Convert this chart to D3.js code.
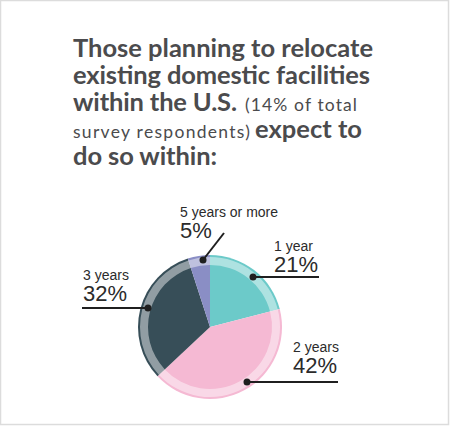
<!DOCTYPE html>
<html>
<head>
<meta charset="utf-8">
<script src="https://cdn.jsdelivr.net/npm/d3@7"></script>
<style>
  body { margin: 0; background: #fff; }
  svg { display: block; }
</style>
</head>
<body>
<svg id="chart" width="450" height="426"></svg>
<script>
// chart data
const categories = ["1 year", "2 years", "3 years", "5 years or more"];
const shares = [21, 42, 32, 5];
const colors = ["#6ccac9", "#f5b9d3", "#374e58", "#8a8ec5"];

// title text, segment by segment (big = bold headline, else small note)
const titleLines = [
  [{ t: "Those planning to relocate", big: true }],
  [{ t: "existing domestic facilities", big: true }],
  [{ t: "within the U.S.", big: true }, { t: "(14% of total", big: false }],
  [{ t: "survey respondents)", big: false }, { t: "expect to", big: true }],
  [{ t: "do so within:", big: true }],
];
// measured span [start, end] of each segment in the reference
const titleSpans = [
  [[73, 373]],
  [[73, 370]],
  [[73, 237], [245, 357]],
  [[73, 250], [255, 362]],
  [[73, 217]],
];

// label placement per slice: text anchor point + leader line (dot, line end)
const labelPos = [
  { x: 274, y: 251, line: [[253, 277], [319, 277]] },
  { x: 293, y: 352, line: [[247, 382], [338, 382]] },
  { x: 83, y: 280, line: [[148, 308], [82, 308]] },
  { x: 180, y: 217, line: [[203, 260], [224, 233]] },
];

const width = 450, height = 426;
const svg = d3.select("#chart");

// frame
svg.append("rect")
  .attr("x", 0.5).attr("y", 0.5)
  .attr("width", width - 2).attr("height", height - 2)
  .attr("fill", "#fff")
  .attr("stroke", "#dcdcdc")
  .attr("stroke-width", 1.5);

// title
const title = svg.append("g")
  .attr("font-family", "Lato, sans-serif")
  .attr("fill", "#4b4b4d");
titleLines.forEach((line, i) => {
  line.forEach((seg, j) => {
    const [x0, x1] = titleSpans[i][j];
    title.append("text")
      .attr("x", x0)
      .attr("y", 57 + i * 27)
      .attr("font-size", seg.big ? 25.5 : 17.5)
      .attr("font-weight", seg.big ? 700 : 400)
      .attr("textLength", x1 - x0)
      .attr("lengthAdjust", "spacing")
      .text(seg.t);
  });
});

// pie
const cx = 210, cy = 327, rOuter = 72, rInner = 62;
const pie = d3.pie().sort(null).value(d => d.v);
const arcs = pie(categories.map((c, i) => ({ c, v: shares[i], color: colors[i] })));

const g = svg.append("g").attr("transform", `translate(${cx},${cy})`);
const fullArc = d3.arc().innerRadius(0).outerRadius(rOuter);
const bandArc = d3.arc().innerRadius(rInner).outerRadius(rOuter - 2);

g.selectAll("path.slice")
  .data(arcs)
  .join("path")
  .attr("class", "slice")
  .attr("d", fullArc)
  .attr("fill", d => d.data.color);

g.selectAll("path.band")
  .data(arcs)
  .join("path")
  .attr("class", "band")
  .attr("d", bandArc)
  .attr("fill", "#fff")
  .attr("fill-opacity", 0.45);

// labels
const lab = svg.append("g").attr("fill", "#2b2b2b")
  .attr("font-family", "'Liberation Sans Narrow', 'Liberation Sans', sans-serif");

arcs.forEach((d, i) => {
  const p = labelPos[i];
  lab.append("text")
    .attr("x", p.x).attr("y", p.y)
    .attr("font-size", 14)
    .text(d.data.c);
  lab.append("text")
    .attr("x", p.x).attr("y", p.y + 21)
    .attr("font-size", 22)
    .text(d.data.v + "%");
  lab.append("line")
    .attr("x1", p.line[0][0]).attr("y1", p.line[0][1])
    .attr("x2", p.line[1][0]).attr("y2", p.line[1][1])
    .attr("stroke", "#1f1f1f")
    .attr("stroke-width", 2);
  lab.append("circle")
    .attr("cx", p.line[0][0]).attr("cy", p.line[0][1])
    .attr("r", 3.5)
    .attr("fill", "#1f1f1f");
});
</script>
</body>
</html>
